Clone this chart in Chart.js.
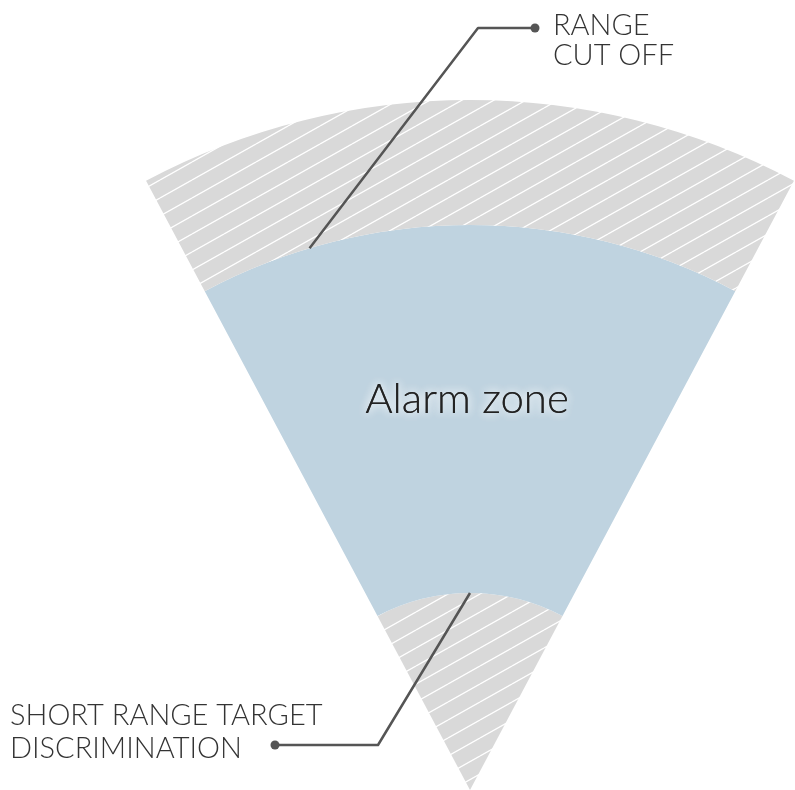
<!DOCTYPE html>
<html>
<head>
<meta charset="utf-8">
<script src="https://cdn.jsdelivr.net/npm/chart.js@4.4.0/dist/chart.umd.min.js"></script>
<style>
    html, body { margin: 0; padding: 0; background: #fff; }
    #wrap { width: 795px; height: 790px; position: relative; }
</style>
</head>
<body>
<div id="wrap"><canvas id="zoneChart"></canvas></div>
<script>
// zones from the outside in, with their depth along the beam
var zoneNames = ["RANGE CUT OFF", "Alarm zone", "SHORT RANGE TARGET DISCRIMINATION"];
var zoneDepths = [125, 368, 197];
var zoneHatched = [true, false, true];
var sectorAngle = 56;

var topLabel = ["RANGE", "CUT OFF"];
var bottomLabel = ["SHORT RANGE TARGET", "DISCRIMINATION"];
var centerLabel = "Alarm zone";

var makeHatch = function() {
    var c = document.createElement("canvas");
    c.width = 32;
    c.height = 18;
    var x = c.getContext("2d");
    x.fillStyle = "#d9d9d9";
    x.fillRect(0, 0, 32, 18);
    x.strokeStyle = "#ffffff";
    x.lineWidth = 1.3;
    [-18, 0, 18].forEach(function (o) {
        x.beginPath();
        x.moveTo(0, 18 + o);
        x.lineTo(32, o);
        x.stroke();
    });
    return x.createPattern(c, "repeat");
}

var hatch = makeHatch();

var datasets = [];
for (var i in zoneNames) {
    datasets.push({
        label: zoneNames[i],
        data: [1],
        weight: zoneDepths[i],
        backgroundColor: zoneHatched[i] ? hatch : "#bfd3e0",
        borderWidth: 0,
        hoverOffset: 0
    });
}

function leader(ctx, pts, dot) {
    ctx.save();
    ctx.strokeStyle = "#555555";
    ctx.lineWidth = 2.5;
    ctx.lineJoin = "round";
    ctx.beginPath();
    ctx.moveTo(pts[0][0], pts[0][1]);
    for (var i = 1; i < pts.length; i++) {
        ctx.lineTo(pts[i][0], pts[i][1]);
    }
    ctx.stroke();
    ctx.fillStyle = "#555555";
    ctx.beginPath();
    ctx.arc(dot[0], dot[1], 4.5, 0, Math.PI * 2);
    ctx.fill();
    ctx.restore();
}

var labelsPlugin = {
    id: "zoneLabels",
    afterDraw: function (chart) {
        var ctx = chart.ctx;
        var blue = chart.getDatasetMeta(1).data[0];
        var inner = chart.getDatasetMeta(2).data[0];

        // alarm zone text with a soft white glow
        var midR = (blue.innerRadius + blue.outerRadius) / 2 + 10;
        ctx.save();
        ctx.font = "300 42px Lato";
        ctx.textAlign = "center";
        ctx.textBaseline = "middle";
        ctx.fillStyle = "#222222";
        ctx.shadowColor = "rgba(255,255,255,0.95)";
        ctx.shadowBlur = 10;
        ctx.fillText(centerLabel, blue.x - 3, blue.y - midR);
        ctx.fillText(centerLabel, blue.x - 3, blue.y - midR);
        ctx.restore();

        // range cut off: leader to the outer edge of the alarm zone
        var a = -Math.PI / 2 - 16.5 * Math.PI / 180;
        var p = [blue.x + blue.outerRadius * Math.cos(a), blue.y + blue.outerRadius * Math.sin(a)];
        leader(ctx, [p, [478, 28], [535, 28]], [535, 28]);

        // short range: leader to the inner edge of the alarm zone
        var q = [inner.x, inner.y - inner.outerRadius];
        leader(ctx, [q, [378, 745], [275, 745]], [275, 745]);

        ctx.save();
        ctx.font = "300 29px Lato";
        ctx.fillStyle = "#333333";
        ctx.textAlign = "left";
        ctx.textBaseline = "alphabetic";
        ctx.fillText(topLabel[0], 553, 35);
        ctx.fillText(topLabel[1], 553, 65);
        ctx.fillText(bottomLabel[0], 10, 725);
        ctx.fillText(bottomLabel[1], 10, 758);
        ctx.restore();
    }
};

var ctx = document.getElementById("zoneChart").getContext("2d");
var chart = new Chart(ctx, {
    type: "doughnut",
    data: {
        labels: ["zone"],
        datasets: datasets
    },
    options: {
        responsive: true,
        maintainAspectRatio: false,
        animation: false,
        cutout: 0,
        rotation: -sectorAngle / 2,
        circumference: sectorAngle,
        layout: {
            padding: {top: 100, bottom: 0, left: 145, right: 0}
        },
        plugins: {
            legend: {display: false},
            tooltip: {enabled: false}
        }
    },
    plugins: [labelsPlugin]
});
</script>
</body>
</html>
